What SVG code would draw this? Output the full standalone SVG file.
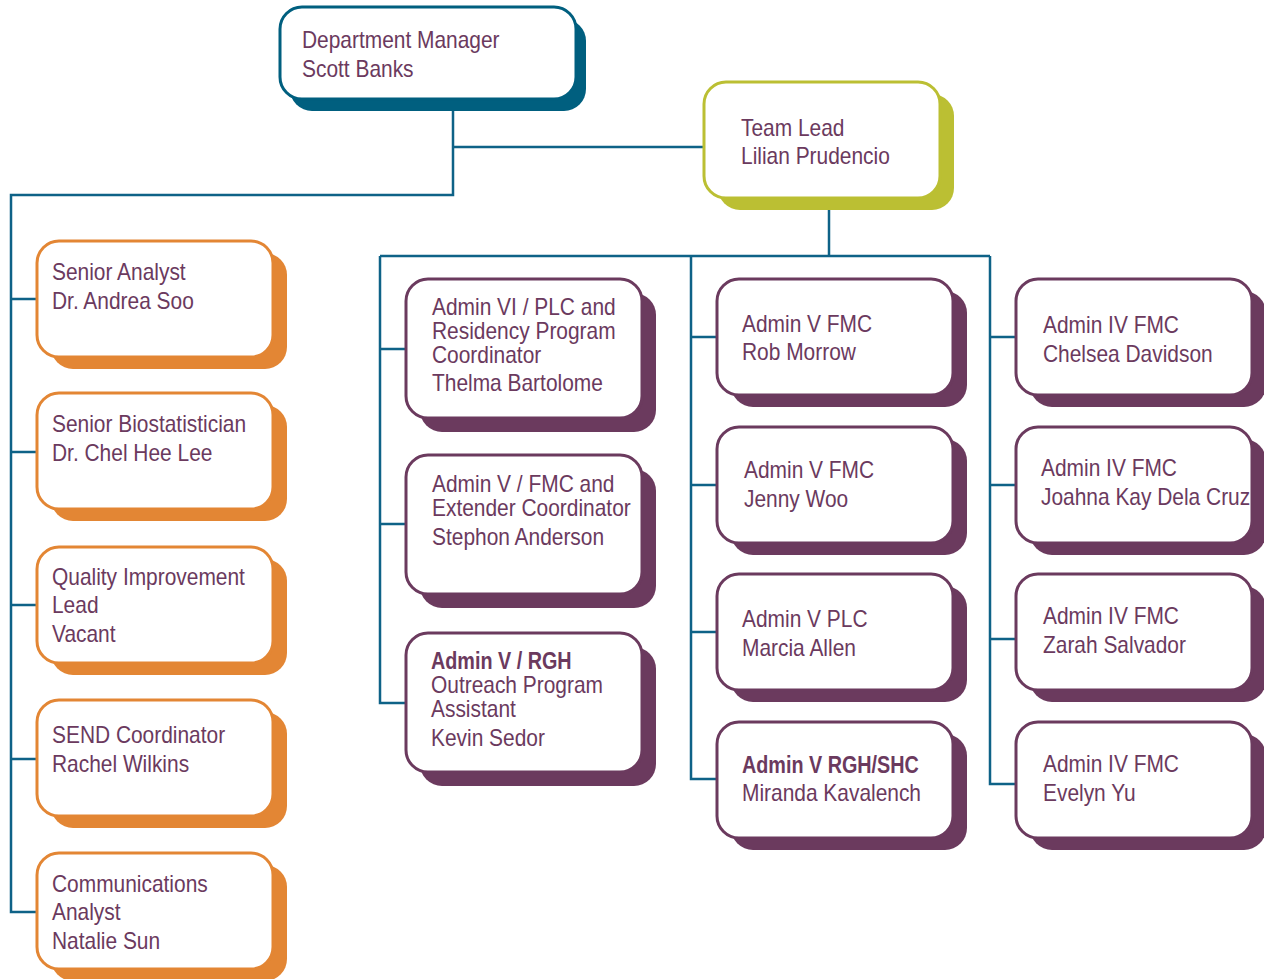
<svg xmlns="http://www.w3.org/2000/svg" width="1264" height="979" viewBox="0 0 1264 979">
  <style>
    .card { fill: #ffffff; stroke-width: 3; }
    /* condensed sans: regular face narrowed around each line's left edge */
    .t { font-family: "Liberation Sans", Arial, sans-serif; font-size: 23px; fill: #6b3a5e;
         transform-box: fill-box; transform-origin: 0 50%; transform: scaleX(0.91); }
    .b { font-weight: bold; transform: scaleX(0.86); }
    .teal .card { stroke: #005f7f; } .teal .sh { fill: #005f7f; }
    .lime .card { stroke: #bbbf33; } .lime .sh { fill: #bbbf33; }
    .orange .card { stroke: #e38634; } .orange .sh { fill: #e38634; }
    .purple .card { stroke: #6b3a5e; } .purple .sh { fill: #6b3a5e; }
    .wire { fill: none; stroke: #0e6287; stroke-width: 2.5; }
  </style>

  <!-- reporting lines -->
  <g id="connectors" class="wire">
    <path d="M453 110 V195 H11 V912 H37"/>
    <path d="M453 147 H704"/>
    <path d="M11 299 H37 M11 452 H37 M11 605 H37 M11 759 H37"/>
    <path d="M829 210 V256"/>
    <path d="M380 256 H990"/>
    <path d="M380 256 V703 H406 M380 349 H406 M380 524 H406"/>
    <path d="M691 256 V779 H717 M691 337 H717 M691 485 H717 M691 632 H717"/>
    <path d="M990 256 V784 H1016 M990 337 H1016 M990 485 H1016 M990 639 H1016"/>
  </g>

  <!-- management -->
  <g id="dept-manager" class="teal">
    <rect class="sh" x="290" y="19" width="296" height="92" rx="22"/>
    <rect class="card" x="280" y="7" width="296" height="92" rx="22"/>
    <text class="t" x="302" y="48">Department Manager</text>
    <text class="t" x="302" y="77">Scott Banks</text>
  </g>
  <g id="team-lead" class="lime">
    <rect class="sh" x="718" y="94" width="236" height="116" rx="22"/>
    <rect class="card" x="704" y="82" width="236" height="116" rx="22"/>
    <text class="t" x="741" y="136">Team Lead</text>
    <text class="t" x="741" y="164">Lilian Prudencio</text>
  </g>

  <!-- analysts -->
  <g id="senior-analyst" class="orange">
    <rect class="sh" x="51" y="253" width="236" height="116" rx="22"/>
    <rect class="card" x="37" y="241" width="236" height="116" rx="22"/>
    <text class="t" x="52" y="280">Senior Analyst</text>
    <text class="t" x="52" y="309">Dr. Andrea Soo</text>
  </g>
  <g id="senior-biostatistician" class="orange">
    <rect class="sh" x="51" y="405" width="236" height="116" rx="22"/>
    <rect class="card" x="37" y="393" width="236" height="116" rx="22"/>
    <text class="t" x="52" y="432">Senior Biostatistician</text>
    <text class="t" x="52" y="461">Dr. Chel Hee Lee</text>
  </g>
  <g id="qi-lead" class="orange">
    <rect class="sh" x="51" y="559" width="236" height="116" rx="22"/>
    <rect class="card" x="37" y="547" width="236" height="116" rx="22"/>
    <text class="t" x="52" y="585">Quality Improvement</text>
    <text class="t" x="52" y="613">Lead</text>
    <text class="t" x="52" y="642">Vacant</text>
  </g>
  <g id="send-coordinator" class="orange">
    <rect class="sh" x="51" y="712" width="236" height="116" rx="22"/>
    <rect class="card" x="37" y="700" width="236" height="116" rx="22"/>
    <text class="t" x="52" y="743">SEND Coordinator</text>
    <text class="t" x="52" y="772">Rachel Wilkins</text>
  </g>
  <g id="communications-analyst" class="orange">
    <rect class="sh" x="51" y="865" width="236" height="116" rx="22"/>
    <rect class="card" x="37" y="853" width="236" height="116" rx="22"/>
    <text class="t" x="52" y="892">Communications</text>
    <text class="t" x="52" y="920">Analyst</text>
    <text class="t" x="52" y="949">Natalie Sun</text>
  </g>

  <!-- program coordinators -->
  <g id="admin-vi-plc" class="purple">
    <rect class="sh" x="420" y="293" width="236" height="139" rx="22"/>
    <rect class="card" x="406" y="279" width="236" height="139" rx="22"/>
    <text class="t" x="432" y="315">Admin VI / PLC and</text>
    <text class="t" x="432" y="339">Residency Program</text>
    <text class="t" x="432" y="363">Coordinator</text>
    <text class="t" x="432" y="391">Thelma Bartolome</text>
  </g>
  <g id="admin-v-extender" class="purple">
    <rect class="sh" x="420" y="469" width="236" height="139" rx="22"/>
    <rect class="card" x="406" y="455" width="236" height="139" rx="22"/>
    <text class="t" x="432" y="492">Admin V / FMC and</text>
    <text class="t" x="432" y="516">Extender Coordinator</text>
    <text class="t" x="432" y="545">Stephon Anderson</text>
  </g>
  <g id="admin-v-outreach" class="purple">
    <rect class="sh" x="420" y="647" width="236" height="139" rx="22"/>
    <rect class="card" x="406" y="633" width="236" height="139" rx="22"/>
    <text class="t b" x="431" y="669">Admin V / RGH</text>
    <text class="t" x="431" y="693">Outreach Program</text>
    <text class="t" x="431" y="717">Assistant</text>
    <text class="t" x="431" y="746">Kevin Sedor</text>
  </g>

  <!-- admin V -->
  <g id="admin-v-morrow" class="purple">
    <rect class="sh" x="731" y="291" width="236" height="116" rx="22"/>
    <rect class="card" x="717" y="279" width="236" height="116" rx="22"/>
    <text class="t" x="742" y="332">Admin V FMC</text>
    <text class="t" x="742" y="360">Rob Morrow</text>
  </g>
  <g id="admin-v-woo" class="purple">
    <rect class="sh" x="731" y="439" width="236" height="116" rx="22"/>
    <rect class="card" x="717" y="427" width="236" height="116" rx="22"/>
    <text class="t" x="744" y="478">Admin V FMC</text>
    <text class="t" x="744" y="507">Jenny Woo</text>
  </g>
  <g id="admin-v-allen" class="purple">
    <rect class="sh" x="731" y="586" width="236" height="116" rx="22"/>
    <rect class="card" x="717" y="574" width="236" height="116" rx="22"/>
    <text class="t" x="742" y="627">Admin V PLC</text>
    <text class="t" x="742" y="656">Marcia Allen</text>
  </g>
  <g id="admin-v-kavalench" class="purple">
    <rect class="sh" x="731" y="734" width="236" height="116" rx="22"/>
    <rect class="card" x="717" y="722" width="236" height="116" rx="22"/>
    <text class="t b" x="742" y="773">Admin V RGH/SHC</text>
    <text class="t" x="742" y="801">Miranda Kavalench</text>
  </g>

  <!-- admin IV -->
  <g id="admin-iv-davidson" class="purple">
    <rect class="sh" x="1030" y="291" width="236" height="116" rx="22"/>
    <rect class="card" x="1016" y="279" width="236" height="116" rx="22"/>
    <text class="t" x="1043" y="333">Admin IV FMC</text>
    <text class="t" x="1043" y="362">Chelsea Davidson</text>
  </g>
  <g id="admin-iv-dela-cruz" class="purple">
    <rect class="sh" x="1030" y="439" width="236" height="116" rx="22"/>
    <rect class="card" x="1016" y="427" width="236" height="116" rx="22"/>
    <text class="t" x="1041" y="476">Admin IV FMC</text>
    <text class="t" x="1041" y="505">Joahna Kay Dela Cruz</text>
  </g>
  <g id="admin-iv-salvador" class="purple">
    <rect class="sh" x="1030" y="586" width="236" height="116" rx="22"/>
    <rect class="card" x="1016" y="574" width="236" height="116" rx="22"/>
    <text class="t" x="1043" y="624">Admin IV FMC</text>
    <text class="t" x="1043" y="653">Zarah Salvador</text>
  </g>
  <g id="admin-iv-yu" class="purple">
    <rect class="sh" x="1030" y="734" width="236" height="116" rx="22"/>
    <rect class="card" x="1016" y="722" width="236" height="116" rx="22"/>
    <text class="t" x="1043" y="772">Admin IV FMC</text>
    <text class="t" x="1043" y="801">Evelyn Yu</text>
  </g>
</svg>
